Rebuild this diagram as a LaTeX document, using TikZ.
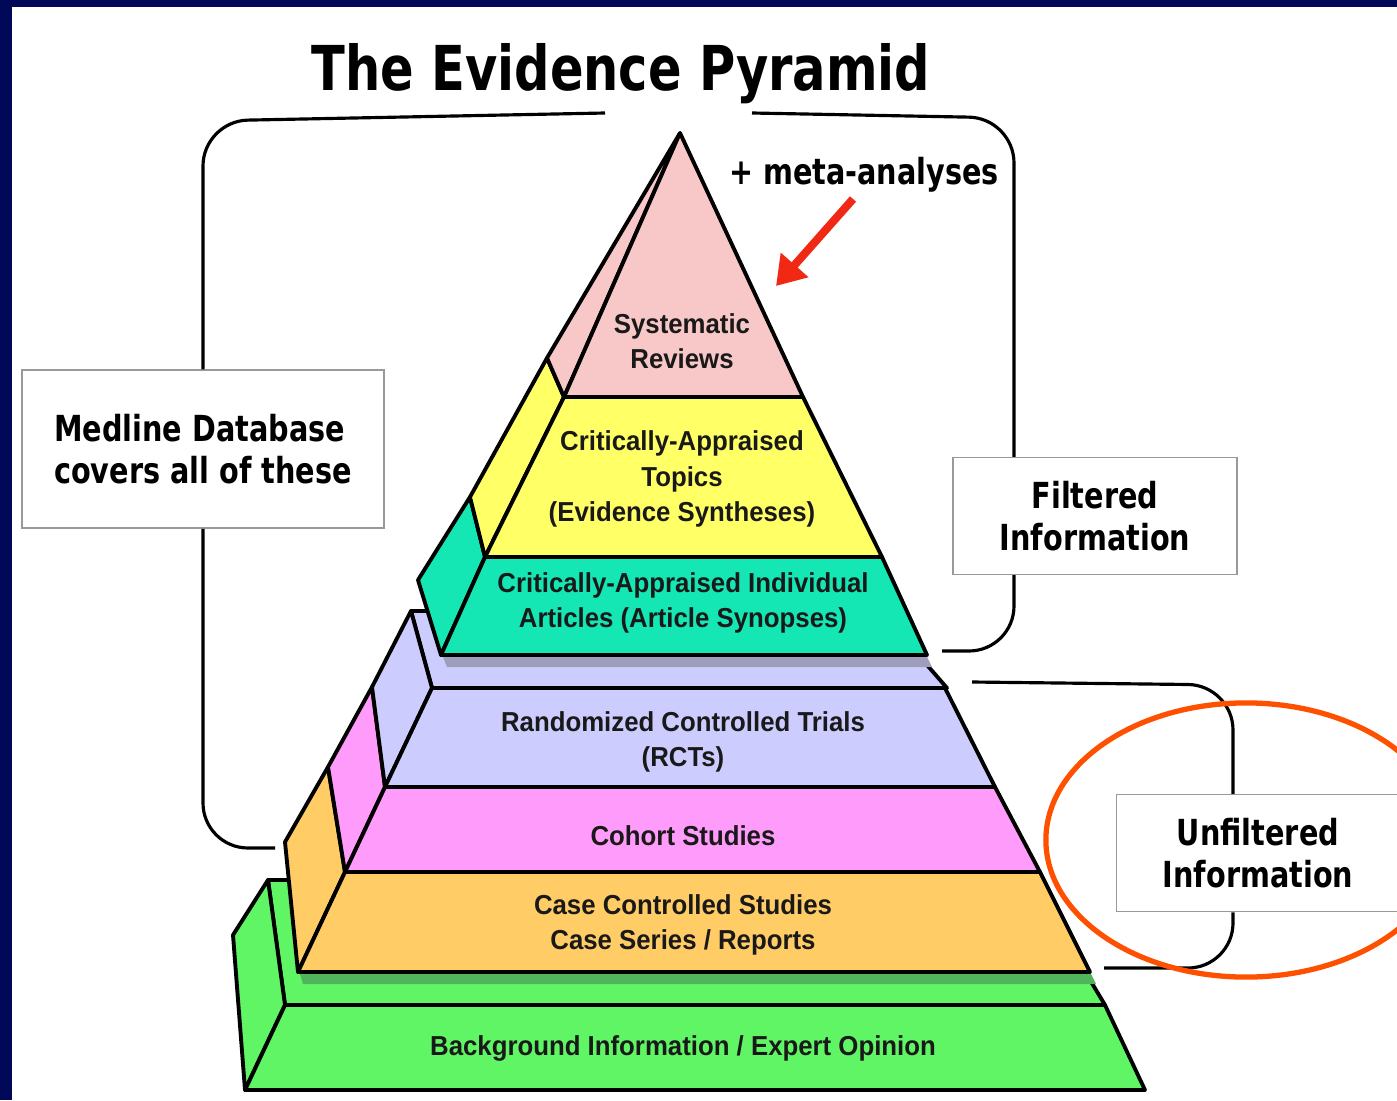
\documentclass[tikz,border=0pt]{standalone}
\usepackage{fontspec}
\usepackage{xcolor}
\usepackage{tikz}
\usetikzlibrary{arrows.meta, positioning, calc}

\newfontfamily\headfont[FakeStretch=0.8]{DejaVu Sans}
\newfontfamily\tierfont[FakeStretch=0.94]{Liberation Sans}

\definecolor{navy}{RGB}{0,8,88}
\definecolor{srpink}{RGB}{248,200,200}
\definecolor{catyellow}{RGB}{255,255,102}
\definecolor{caiteal}{RGB}{20,230,180}
\definecolor{rctblue}{RGB}{204,204,255}
\definecolor{rctshade}{RGB}{158,158,188}
\definecolor{cohortpink}{RGB}{255,155,250}
\definecolor{caseorange}{RGB}{255,204,102}
\definecolor{bggreen}{RGB}{95,245,100}
\definecolor{bgshade}{RGB}{80,180,92}
\definecolor{ringred}{RGB}{255,80,0}
\definecolor{arrowred}{RGB}{240,40,20}

\tikzset{
  tier/.style    ={draw=black, line width=1.1pt, line join=round},
  tierlbl/.style ={font=\tierfont\bfseries\fontsize{7.8}{10.1}\selectfont,
                   align=center, text=black!90, inner sep=0pt},
  infobox/.style ={rectangle, draw=black!40, line width=0.4pt, fill=white,
                   align=center, text=black,
                   font=\headfont\bfseries\fontsize{10.2}{11.8}\selectfont},
  brace/.style   ={draw=black, line width=0.9pt, rounded corners=0.45cm},
  ring/.style    ={draw=ringred, line width=1.5pt},
  pointer/.style ={-{Triangle[length=8pt,width=10pt]}, line width=2.3pt, arrowred}
}

\begin{document}
\begin{tikzpicture}[x=0.01cm, y=-0.01cm]
% canvas and frame
\clip (0,0) rectangle (1397,1100);
\fill[white] (0,0) rectangle (1397,1100);
\fill[navy] (0,0) rectangle (1397,7);
\fill[navy] (0,0) rectangle (12,1100);

% Title and side boxes
\node[font=\headfont\bfseries\fontsize{17.6}{20}\selectfont] (title) at (621,74) {The Evidence Pyramid};
\node[font=\headfont\bfseries\fontsize{10.2}{12}\selectfont] (meta) at (864,175) {+ meta-analyses};

\node[infobox, align=left, minimum width=3.62cm, minimum height=1.58cm] (medline) at (203,449)
     {Medline Database\\covers all of these};
\node[infobox, minimum width=2.84cm, minimum height=1.17cm] (filtered) at (1095,516)
     {Filtered\\Information};
\node[infobox, minimum width=2.83cm, minimum height=1.17cm] (unfiltered) at (1258,853)
     {Unfiltered\\Information};

% Brackets
\coordinate (medtop)    at (605,113);
\coordinate (medcorner) at (203,121);
\coordinate (medbot)    at (275,848);
\draw[brace] (medtop) -- (medcorner) -- (medline.north);
\draw[brace] (medline.south) -- (medline.south |- medbot) -- (medbot);

\coordinate (filtop)    at (752,113);
\coordinate (filcorner) at (1014,118);
\coordinate (filbot)    at (942,651);
\draw[brace] (filtop) -- (filcorner) -- (filcorner |- filtered.north);
\draw[brace] (filcorner |- filtered.south) -- (filcorner |- filbot) -- (filbot);

\coordinate (unftop)    at (972,682);
\coordinate (unfcorner) at (1233,685);
\coordinate (unfbot)    at (1104,968);
\draw[brace] (unftop) -- (unfcorner) -- (unfcorner |- unfiltered.north);
\draw[brace] (unfcorner |- unfiltered.south) -- (unfcorner |- unfbot) -- (unfbot);

% Base tier (top step, side, front)
\filldraw[tier, fill=bggreen] (268,880) -- (1030,880) -- (1105,1005) -- (285,1005) -- cycle;
\filldraw[tier, fill=bggreen] (268,880) -- (233,935) -- (245,1090) -- (285,1005) -- cycle;
\filldraw[tier, fill=bggreen] (285,1005) -- (1105,1005) -- (1145,1090) -- (245,1090) -- cycle;

% Case studies
\filldraw[tier, fill=caseorange] (328,767) -- (285,842) -- (298,972) -- (345,872) -- cycle;
\filldraw[tier, fill=caseorange] (345,872) -- (1040,872) -- (1090,972) -- (298,972) -- cycle;
\fill[bgshade] (300,974) -- (1091,974) -- (1096,984) -- (303,984) -- cycle;

% Cohort studies
\filldraw[tier, fill=cohortpink] (372,687) -- (328,767) -- (345,872) -- (385,787) -- cycle;
\filldraw[tier, fill=cohortpink] (385,787) -- (995,787) -- (1040,872) -- (345,872) -- cycle;

% RCTs (top step, side, front)
\filldraw[tier, fill=rctblue] (411,611) -- (880,611) -- (947,688) -- (432,688) -- cycle;
\filldraw[tier, fill=rctblue] (411,611) -- (372,687) -- (385,787) -- (432,688) -- cycle;
\filldraw[tier, fill=rctblue] (432,688) -- (945,688) -- (995,787) -- (385,787) -- cycle;
\fill[rctshade] (443,657) -- (927,657) -- (932,667) -- (447,667) -- cycle;

% Individual articles
\filldraw[tier, fill=caiteal] (470,497) -- (418,580) -- (441,655) -- (485,557) -- cycle;
\filldraw[tier, fill=caiteal] (485,557) -- (882,557) -- (927,655) -- (441,655) -- cycle;

% Appraised topics
\filldraw[tier, fill=catyellow] (547,358) -- (470,497) -- (485,557) -- (564,397) -- cycle;
\filldraw[tier, fill=catyellow] (564,397) -- (803,397) -- (882,557) -- (485,557) -- cycle;

% Systematic reviews (apex)
\filldraw[tier, fill=srpink] (680,133) -- (547,358) -- (564,397) -- cycle;
\filldraw[tier, fill=srpink] (680,133) -- (803,397) -- (564,397) -- cycle;

% Tier labels
\node[tierlbl] (sr)  at (682,341)  {Systematic\\Reviews};
\node[tierlbl] (cat) at (682,479)  {Critically-Appraised\\Topics\\(Evidence Syntheses)};
\node[tierlbl] (cai) at (683,603)  {Critically-Appraised Individual\\Articles (Article Synopses)};
\node[tierlbl] (rct) at (683,742)  {Randomized Controlled Trials\\(RCTs)};
\node[tierlbl] (coh) at (683,836)  {Cohort Studies};
\node[tierlbl] (ccs) at (683,925)  {Case Controlled Studies\\Case Series / Reports};
\node[tierlbl] (bg)  at (683,1048) {Background Information / Expert Opinion};

% Pointer to the apex and highlight ring
\coordinate (mtail) at (853,199);
\coordinate (mtip)  at (776,286);
\draw[pointer] (mtail) -- (mtip);
\draw[ring] (1246,840) ellipse [x radius=2cm, y radius=1.37cm];
\end{tikzpicture}
\end{document}
